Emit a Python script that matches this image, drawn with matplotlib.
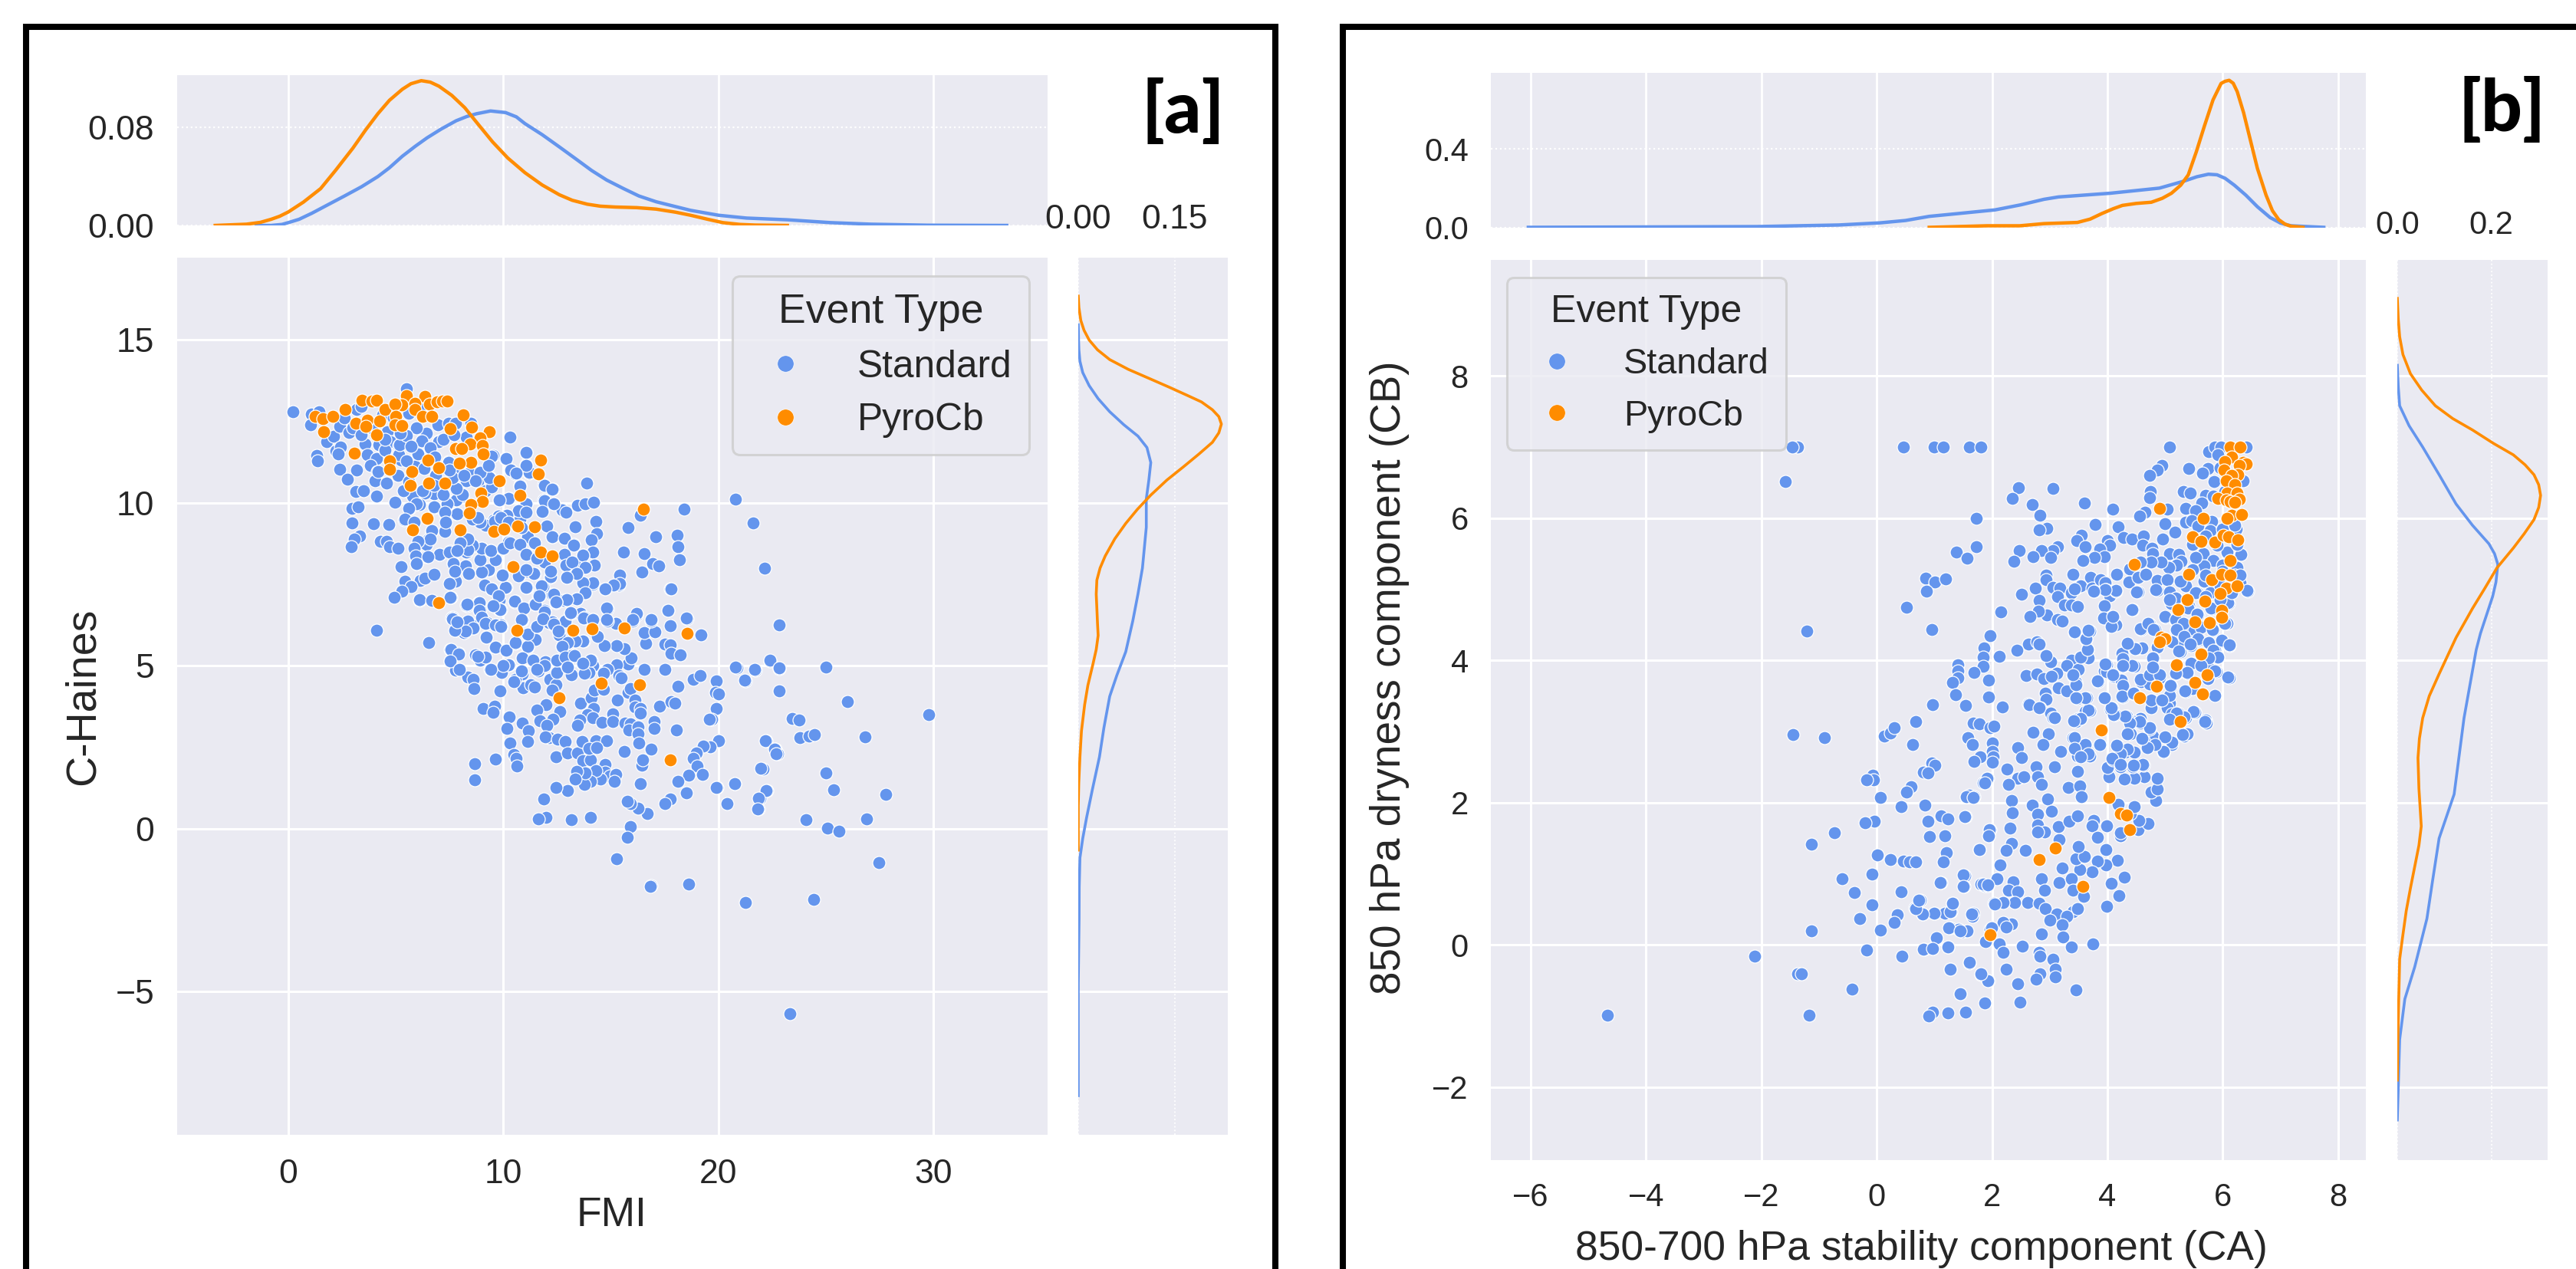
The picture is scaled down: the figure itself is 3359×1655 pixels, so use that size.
import matplotlib
matplotlib.use("Agg")
import matplotlib.pyplot as plt
from matplotlib.lines import Line2D

BLUE = "#6495ED"
ORANGE = "#FF8C00"
BG = "#EAEAF2"

# ---------- panel a: FMI vs C-Haines ----------
a_standard = [
(6.10,7.0),(6.52,5.72),(7.56,7.10),(7.62,6.48),(7.80,6.30),(7.76,6.10),(8.15,6.02),(8.31,6.84),(8.31,6.18),(8.60,6.15),
(8.86,6.94),(8.87,6.70),(8.99,6.49),(9.20,5.88),(9.23,6.33),(9.46,7.35),(9.64,6.26),(9.90,6.20),(9.82,6.73),(9.64,5.57),
(10.12,5.47),(10.12,7.41),(10.54,6.99),(11.07,7.41),(11.64,7.17),(11.48,6.88),(10.86,6.39),(11.52,6.18),(11.11,5.94),(11.49,5.81),
(10.56,5.69),(11.13,5.57),(10.87,5.24),(11.37,5.16),(11.90,5.02),(11.96,5.12),(11.61,4.84),(10.86,4.75),(10.27,5.04),(10.0,5.0),
(9.92,4.79),(9.38,4.88),(7.52,5.49),(7.92,5.38),(7.54,5.15),(7.94,4.90),(7.76,4.86),(8.69,5.34),(8.85,5.26),(8.93,5.17),
(9.17,5.27),(8.36,4.65),(8.61,4.58),(8.63,4.29),(9.85,4.24),(9.05,3.70),(9.58,3.77),(9.52,3.56),(10.26,3.44),(10.15,3.08),
(10.87,3.25),(11.15,3.01),(10.32,2.62),(11.11,2.67),(10.50,2.28),(10.60,2.15),(10.61,1.92),(9.62,2.13),(8.67,2.00),(8.67,1.51),
(10.92,4.33),(11.25,4.41),(11.43,4.35),(10.54,4.58),(10.48,4.51),(12.17,4.59),(12.44,4.41),(12.26,4.25),(12.48,4.80),(11.99,3.81),
(11.56,3.63),(12.62,3.60),(11.70,3.31),(12.30,3.35),(12.02,3.17),(12.14,2.80),(11.96,2.82),(12.52,2.75),(12.86,2.67),(12.45,2.21),
(12.98,2.33),(13.43,2.32),(13.69,2.08),(14.05,2.12),(13.67,2.67),(14.31,2.70),(14.80,2.71),(13.96,2.47),(14.35,2.49),(13.57,3.85),
(14.07,4.02),(14.23,4.25),(14.64,4.27),(14.19,3.70),(13.90,3.49),(14.17,3.41),(13.54,3.34),(13.45,3.17),(14.58,3.26),(15.08,3.53),
(15.08,3.29),(15.30,3.94),(15.80,4.18),(15.89,4.29),(16.13,3.94),(16.13,3.74),(16.37,3.70),(16.37,3.55),(15.65,3.23),(15.92,3.22),
(15.83,3.04),(16.25,3.12),(16.27,2.91),(17.02,3.29),(17.0,3.08),(17.26,3.77),(17.80,3.90),(17.98,3.85),(18.04,3.02),(18.10,4.37),
(18.83,4.58),(19.13,4.71),(19.88,4.53),(19.86,4.19),(20.0,4.14),(19.88,3.69),(19.70,3.35),(19.58,3.37),(20.0,2.70),(19.61,2.51),
(19.29,2.53),(18.96,2.33),(18.81,2.15),(18.99,1.92),(19.26,1.66),(18.63,1.65),(18.13,1.45),(18.50,1.11),(17.76,0.92),(17.52,0.76),
(16.69,0.47),(16.25,0.63),(15.92,0.78),(15.77,0.84),(16.35,1.37),(16.43,1.94),(16.49,2.10),(16.85,2.43),(16.31,2.63),(15.63,2.37),
(14.73,1.98),(14.73,1.74),(14.94,1.62),(15.24,1.66),(15.15,1.45),(14.5,1.52),(14.29,1.78),(14.05,1.45),(13.77,1.35),(13.81,1.70),
(13.42,1.76),(13.33,1.52),(12.98,1.17),(12.44,1.27),(11.86,0.92),(11.99,0.35),(11.64,0.29),(13.17,0.27),(14.04,0.34),(15.92,0.07),
(15.77,-0.26),(15.26,-0.93),(16.87,-1.75),(18.63,-1.71),(20.87,4.94),(21.70,4.87),(22.40,5.14),(22.82,4.92),(21.25,4.54),(22.82,4.22),
(22.20,2.70),(22.64,2.45),(22.74,2.29),(22.06,1.84),(22.26,1.18),(21.93,0.93),(21.85,0.60),(20.76,1.39),(19.93,1.26),(20.38,0.76),
(16.55,4.90),(17.52,4.90),(15.81,5.05),(15.93,5.24),(15.26,5.04),(14.82,4.88),(15.36,4.71),(15.48,4.63),(15.60,5.53),(15.26,5.63),
(14.68,5.63),(14.37,5.90),(13.73,5.75),(13.33,5.76),(13.04,5.71),(12.74,5.59),(12.92,5.24),(13.15,5.31),(12.62,5.20),(12.98,4.96),
(13.15,4.73),(13.65,5.08),(14.07,5.16),(14.17,5.0),(13.96,4.79),(13.75,4.76),(14.64,4.76),(16.61,5.68),(17.5,5.67),(17.77,5.65),
(17.8,5.39),(18.21,5.33),(16.55,6.02),(17.05,6.04),(17.77,6.22),(17.64,6.69),(18.54,6.44),(19.17,5.94),(17.77,7.35),(16.88,6.37),
(16.19,6.57),(16.01,6.37),(15.24,6.30),(14.82,6.37),(14.82,6.75),(13.12,6.61),(13.75,6.47),(14.17,6.41),(13.57,6.61),(12.86,6.37),
(12.32,6.26),(12.14,6.33),(11.85,6.45),(12.6,5.94),(12.46,6.94),(12.8,7.0),(13.39,7.06),(13.79,7.24),(14.74,7.35),(15.38,7.49),
(14.17,7.51),(12.26,7.2),(11.9,6.69),(22.83,6.26),
(0.22,12.79),(1.08,12.73),(1.44,12.81),(1.04,12.39),(1.77,11.88),(2.09,12.05),(2.39,12.36),(2.81,12.16),(3.16,12.88),(3.4,12.96),
(1.32,11.45),(1.37,11.3),(2.2,11.59),(2.44,11.71),(2.33,11.5),(2.39,11.04),(3.19,11.02),(2.74,10.73),(3.57,11.8),(3.68,11.49),
(4.19,11.79),(4.48,11.61),(4.11,11.36),(3.8,11.16),(4.15,10.96),(4.04,10.69),(4.55,10.6),(3.13,10.35),(3.51,10.38),(4.11,10.2),
(4.96,10.01),(2.97,9.83),(3.25,9.89),(2.97,9.38),(3.96,9.36),(4.67,9.33),(3.32,8.99),(3.08,8.9),(2.92,8.65),(4.27,8.81),
(4.56,8.81),(4.72,8.65),(5.1,8.61),(5.87,8.63),(5.92,8.38),(5.95,8.14),(6.43,8.34),(7.03,8.43),(7.54,8.51),(7.67,8.16),
(8.23,8.06),(5.23,8.04),(5.42,7.59),(6.14,7.62),(6.35,7.69),(6.78,7.81),(5.71,7.44),(5.28,7.3),(4.91,7.11),(6.08,7.02),
(6.67,7.01),(7.54,7.1),(7.78,7.59),(7.5,7.52),(8.29,6.87),(8.85,6.93),(7.61,6.46),(4.11,6.1),(5.5,13.5),(4.59,12.18),
(4.75,11.87),(5.12,11.77),(5.12,11.47),(5.47,12.06),(6.0,11.54),(6.24,11.93),(6.99,11.9),(6.95,12.41),(6.43,12.14),(7.46,12.45),
(7.78,12.45),(5.95,12.3),(5.23,11.32),(5.87,11.12),(6.83,10.85),(7.62,10.85),(7.46,11.28),(8.9,10.96),(8.26,12.02),(8.5,12.45),
(10.1,11.36),(10.33,11.02),(11.18,10.92),(11.07,11.54),(11.07,11.18),(9.51,11.46),(10.57,10.89),(13.86,10.61),(11.88,10.56),(12.3,10.42),
(10.77,10.53),(9.38,10.77),(8.42,10.92),(7.78,10.92),(8.26,10.69),(8.82,10.65),(7.19,10.26),(6.78,10.27),(6.35,10.3),(5.79,10.22),
(5.36,10.38),(7.78,10.09),(8.1,10.22),(9.79,10.09),(10.26,10.14),(11.05,9.98),(11.88,10.09),(12.33,9.98),(12.73,9.79),(12.89,9.71),
(13.44,9.92),(13.81,9.97),(14.19,10.01),(16.35,9.62),(18.39,9.8),(20.8,10.12),(21.61,9.38),(15.81,9.24),(14.29,9.44),(13.32,9.26),
(14.32,9.06),(14.07,8.86),(13.25,8.73),(12.84,8.91),(12.28,8.97),(11.82,9.73),(12.01,9.3),(17.07,8.95),(18.07,9.02),(18.12,8.65),
(18.2,8.26),(15.57,8.49),(16.56,8.45),(16.92,8.14),(17.21,8.06),(16.44,7.87),(14.16,8.49),(13.68,8.4),(12.85,8.38),(14.21,8.09),
(13.8,8.01),(12.92,8.1),(13.29,8.14),(13.41,7.83),(12.95,7.71),(12.17,7.71),(15.41,7.79),(15.39,7.52),(15.12,7.48),(14.74,7.36),
(14.16,7.54),(13.68,7.54),(13.8,7.24),(17.78,7.35),(13.41,7.05),(12.95,7.02),(12.46,6.95),(11.85,7.44),(11.66,7.16),(12.33,7.2),
(11.1,7.41),(10.1,7.4),(9.46,7.36),(9.14,7.48),(9.3,7.93),(9.94,7.79),(10.73,7.79),(11.1,7.91),(11.45,7.83),(11.1,8.42),
(8.98,8.61),(8.58,8.67),(8.29,8.5),(9.41,8.53),(10.25,8.79),(11.13,8.95),(10.77,9.51),(10.18,9.63),(9.54,9.47),(8.82,9.51),
(9.19,9.32),(7.81,9.66),(6.78,9.85),(7.27,9.71),(7.27,9.12),(6.67,9.16),(5.39,9.47),(5.63,9.83),(6.11,9.95),(6.51,8.89),
(8.34,8.89),(9.79,7.0),(10.53,6.97),(11.45,6.89),(9.86,6.73),(8.9,6.73),(10.89,6.42),(9.86,6.26),(8.58,6.22),(12.25,6.34),
(13.13,6.61),(13.75,6.5),(14.8,6.77),(14.8,6.42),(16.2,6.61),(16,6.42),(16.87,6.42),(17.64,6.69),(18.52,6.46),(22.14,7.99),
(25.0,4.96),(22.4,5.16),(22.82,4.93),(21.68,4.89),(21.2,4.56),(20.8,4.96),(26,3.91),(29.77,3.5),(23.44,3.38),(23.74,3.34),
(23.78,2.8),(24.2,2.84),(24.47,2.88),(26.83,2.82),(22.18,2.7),(22.6,2.45),(22.67,2.3),(21.98,1.86),(25.0,1.7),(22.21,1.18),
(21.87,0.93),(21.83,0.61),(25.34,1.2),(27.79,1.06),(24.08,0.27),(25.08,0.02),(25.61,-0.07),(26.87,0.31),(27.44,-1.04),(21.26,-2.27),
(24.43,-2.17),(23.32,-5.69),(16.83,-1.78),(20.76,1.38),(19.89,1.27)]

a_standard_dense = [
(10.3,12.01),(11.07,11.54),(10.12,11.36),(9.46,11.44),(10.35,11.02),(11.19,10.94),(11.07,11.16),(10.59,10.91),(11.9,10.55),(12.28,10.42),
(10.77,10.52),(10.24,10.14),(9.82,10.08),(11.9,10.06),(12.32,9.97),(11.07,9.98),(10.71,9.75),(11.07,9.71),(11.82,9.73),(10.18,9.63),
(9.78,9.59),(12.02,9.29),(11.13,8.96),(11.45,8.77),(12.26,8.96),(12.85,8.91),(13.27,8.71),(12.85,8.42),(13.68,8.4),(11.9,8.18),
(12.89,8.1),(13.21,8.18),(13.8,8.01),(13.39,7.83),(12.93,7.71),(12.2,7.73),(12.2,7.91),(11.07,7.41),(11.78,7.46),(10.71,7.77),
(11.42,7.83),(11.07,7.95),(9.94,7.79),(9.29,7.95),(8.99,7.87),(8.93,8.26),(8.99,8.61),(8.57,8.71),(8.33,8.57),(8.22,8.06),
(8.39,7.83),(9.64,8.26),(9.4,8.53),(10.0,8.61),(10.3,8.77),(10.77,8.73),(11.07,8.42),(11.54,8.3),(10.83,9.24),(9.17,9.32),
(8.93,9.4),(9.58,9.44),(9.88,9.55),(10.24,9.4),(7.8,10.1),(7.38,9.98),(7.84,9.67),(7.21,10.26),(6.79,9.87),(7.27,9.71),
(7.32,9.4),(6.67,9.16),(6.43,8.73),(6.61,8.89),(7.03,8.42),(7.5,8.49),(7.68,8.14),(7.74,7.91),(8.33,8.89),(7.98,8.77),
(7.86,8.53),(8.57,9.5),(8.81,9.55),(9.17,10.38),(9.46,10.49),(9.34,10.77),(8.93,10.93),(8.69,10.69),(8.1,10.26),(7.8,10.45),
(7.62,10.77),(8.16,10.85),(7.44,11.24),(7.5,11.0),(6.79,10.53),(6.25,10.38),(5.96,9.98),(5.6,9.83),(5.42,9.5),(5.84,9.4),
(6.02,8.81),(5.86,8.61),(5.92,8.38),(6.49,8.34),(5.96,8.14),(9.29,11.16),(6.02,11.51),(6.2,11.91),(7.0,11.88),(5.13,11.47),
(5.16,11.79),(4.51,11.62),(5.48,12.06),(4.18,10.96),(9.46,7.36),(9.76,7.16),(10.53,6.99),(10.95,6.77),(11.48,6.89),(11.66,7.16),
(12.43,6.96),(11.9,6.65),(9.84,6.73),(9.52,6.85),(8.87,6.93),(8.87,6.69),(8.99,6.49),(8.31,6.89),(8.33,6.38),(8.6,6.16),
(8.22,6.06),(7.74,6.1),(7.62,6.45),(7.86,6.34),(9.17,6.3),(9.19,5.87),(9.64,6.26),(9.88,6.2),(9.64,5.57),(10.12,5.47),
(10.56,5.71),(11.13,5.59),(11.13,5.98),(10.83,6.42),(11.54,6.2),(11.84,6.45),(12.32,6.28),(12.55,6.06),(13.12,6.63),(13.74,6.47),
(14.16,6.42),(13.71,5.75),(13.33,5.75),(12.97,5.71),(12.73,5.59),(10.89,5.24),(11.36,5.16),(11.9,5.0),(12.49,5.16),(12.87,5.26),
(13.3,5.32),(14.04,5.16),(13.68,5.08),(12.97,4.96),(10.24,5.04),(10.83,4.85),(10,5),(9.4,4.89),(8.81,5.28),(7.56,5.51),
(7.92,5.37),(7.53,5.15),(7.94,4.9),(11.54,4.89),(2.6,12.6),(3.0,12.3),(3.4,12.1),(3.9,12.3),(4.4,12.7),(5.0,12.9),
(5.6,12.75),(6.1,12.9),(5.2,12.15),(4.9,12.6),(4.5,11.95),(5.7,11.75),(6.6,11.7),(7.2,11.95),(7.7,12.1),(6.8,11.4),
(6.3,11.05),(5.5,11.3),(5.1,10.85),(5.6,10.65)]

a_pyrocb = [
(7.0,6.94),(10.61,6.1),(13.23,6.08),(14.11,6.14),(15.6,6.17),(18.55,6.0),(14.56,4.47),(16.33,4.41),(12.57,4.01),(17.77,2.11),
(1.26,12.66),(1.59,12.59),(2.07,12.66),(2.65,12.86),(1.63,12.19),(3.43,13.15),(3.88,13.13),(4.11,13.16),(3.13,12.44),(3.68,12.55),
(3.6,12.35),(4.23,12.51),(4.48,12.87),(4.11,12.09),(3.08,11.53),(5.5,13.3),(6.35,13.28),(5.28,13.02),(4.94,13.04),(5.87,13.06),
(5.87,12.88),(6.55,13.03),(6.92,13.1),(7.18,13.12),(7.38,13.13),(4.99,12.65),(6.24,12.65),(6.67,12.65),(4.96,12.39),(5.26,12.37),
(8.13,12.7),(7.51,12.27),(8.52,12.33),(9.35,12.19),(8.93,12.0),(8.45,11.82),(9.03,11.77),(9.06,11.51),(7.78,11.67),(8.05,11.67),
(8.47,11.24),(7.96,11.21),(11.74,11.31),(11.61,10.89),(4.69,11.29),(4.7,11.04),(6.48,11.31),(6.99,11.07),(5.74,10.96),(5.66,10.53),
(6.54,10.6),(7.27,10.61),(9.79,10.67),(8.95,10.31),(10.78,10.24),(9.03,10.04),(8.47,9.95),(8.41,9.7),(16.51,9.8),(6.46,9.53),
(5.79,9.18),(7.99,9.18),(9.57,9.12),(10.02,9.2),(10.65,9.28),(11.45,9.26),(11.74,8.48),(12.25,8.38),(10.46,8.04)]

a_top_x_std = [-1.5,-0.8,-.3,0,.5,1.1,1.8,2.6,3.4,4.16,4.7,5.3,5.9,6.45,7.1,7.8,8.3,8.74,9.4,10.1,10.6,11,11.8,12.6,13.4,14.1,14.8,15.6,16.3,17.1,18.7,20,21.3,23.2,25.2,27.1,29.7,33.4]
a_top_y_std = [0,0,.0008,.0023,.005,.01,.0165,.0239,.0315,.0398,.047,.0564,.0645,.0714,.0785,.0853,.0888,.091,.0933,.092,.0885,.083,.074,.064,.0538,.0448,.037,.0299,.024,.0193,.0123,.0083,.006,.0046,.0023,.001,.0002,0]
a_top_x_pyro = [-3.4,-1.95,-1.3,-.8,-.4,0,.7,1.5,2.2,3,3.6,4.16,4.7,5.3,5.7,6.18,6.6,7,7.6,8.2,8.8,9.5,10.2,11,11.8,12.6,13.2,13.9,14.5,15.2,16.2,17.1,18,18.7,19.5,20.2,21,21.7,23.2]
a_top_y_pyro = [0,.001,.0025,.005,.0075,.011,.019,.03,.045,.063,.078,.091,.102,.111,.1155,.118,.1168,.1135,.106,.096,.083,.068,.055,.043,.033,.025,.0205,.0173,.0157,.015,.0145,.0133,.0108,.0083,.005,.0023,.0008,.0003,0]
a_right_y_std = [15.47,15,14.7,14.35,14,13.6,13.2,12.8,12.4,12.05,11.7,11.24,10.7,10.12,9.25,8,7.2,6.38,5.43,4.7,4.06,3.1,2.2,1.2,.34,-.3,-.9,-1.8,-2.77,-4.76,-8.2]
a_right_x_std = [0,.0005,.001,.0026,.007,.017,.031,.049,.071,.093,.107,.113,.11,.106,.106,.1,.093,.085,.074,.06,.049,.04,.033,.022,.013,.007,.0026,.0015,.0013,0,0]
a_right_y_pyro = [16.35,16,15.6,15.3,15,14.7,14.4,14.1,13.8,13.55,13.3,13.1,12.86,12.65,12.42,12.15,11.86,11.5,11.11,10.7,10.24,9.8,9.37,8.9,8.37,8,7.63,7.2,6.76,6.3,5.93,5.5,5.06,4.4,3.81,3,2.2,1.4,.7,-.66]
a_right_x_pyro = [0,.001,.004,.009,.017,.03,.049,.078,.113,.142,.17,.192,.209,.219,.223,.219,.209,.188,.164,.138,.113,.092,.074,.057,.042,.034,.029,.028,.029,.03,.031,.028,.023,.015,.01,.005,.0026,.0008,0,0]

# ---------- panel b: CA vs CB ----------
b_standard = [
(0.99,7.0),(1.15,7.0),(1.6,7.0),(1.81,7.0),(5.08,7.0),(5.75,6.94),(5.86,7.0),(5.97,7.0),(6.41,7.0),(5.92,6.89),
(4.95,6.74),(4.86,6.68),(4.73,6.6),(5.41,6.7),(5.74,6.7),(5.65,6.63),(5.85,6.51),(5.95,6.71),(2.46,6.43),(3.05,6.42),
(2.35,6.28),(2.7,6.19),(3.6,6.21),(4.09,6.13),(4.75,6.37),(4.73,6.29),(5.31,6.37),(5.44,6.35),(5.7,6.32),(5.84,6.31),
(5.63,6.21),(5.03,6.13),(5.35,6.14),(5.53,6.1),(4.65,6.08),(4.56,6.03),(2.83,6.04),(1.72,6.0),(2.95,5.86),(2.81,5.84),
(3.79,5.91),(4.19,5.88),(5.0,5.92),(5.17,5.8),(5.35,5.94),(5.46,5.97),(5.57,5.89),(5.81,5.95),(5.78,5.82),(6.23,5.85),
(5.99,5.85),(3.55,5.76),(3.47,5.69),(3.61,5.6),(4.0,5.68),(4.04,5.62),(3.87,5.57),(3.94,5.46),(3.77,5.45),(3.57,5.41),
(4.28,5.73),(4.43,5.71),(4.62,5.75),(4.61,5.62),(4.96,5.71),(4.77,5.58),(4.79,5.5),(5.08,5.5),(5.24,5.49),(5.28,5.39),
(5.66,5.5),(5.84,5.4),(6.08,5.52),(6.31,5.49),(6.25,5.63),(5.47,5.63),(5.68,5.33),(5.53,5.45),(5.19,5.34),(5.06,5.31),
(4.93,5.38),(4.76,5.38),(4.57,5.38),(4.38,5.29),(3.13,5.6),(3.05,5.55),(2.86,5.55),(3.01,5.45),(2.71,5.46),(2.47,5.54),
(2.38,5.39),(1.73,5.6),(1.38,5.52),(1.56,5.44),(0.85,5.16),(1.01,5.1),(1.2,5.15),(0.86,4.97),(3.4,5.21),(3.71,5.17),
(4.16,5.21),(2.93,5.2),(2.94,5.13),(2.75,5.02),(3.06,5.03),(3.17,5.02),(2.51,4.93),(2.81,4.84),(3.45,5.02),(3.53,5.05),
(3.37,4.95),(3.14,4.9),(3.26,4.78),(3.37,4.78),(3.48,4.76),(3.74,5.02),(3.78,4.97),(3.88,5.13),(3.96,5.09),(3.97,4.99),
(4.04,4.91),(4.15,4.97),(4.37,5.1),(4.53,5.17),(4.66,5.21),(4.53,4.96),(4.86,4.98),(4.87,5.12),(5.04,5.13),(5.35,5.05),
(5.26,5.11),(5.48,5.27),(5.08,4.96),(5.2,4.88),(5.56,4.95),(5.79,4.96),(5.68,5.11),(5.99,5.34),(6.25,5.31),(6.43,4.97),
(6.3,5.09),(6.1,4.8),(5.81,4.73),(5.1,4.8),(5.01,4.61),(5.17,4.58),(5.33,4.51),(5.41,4.77),(5.57,4.64),(5.64,4.48),
(5.84,4.42),(6.08,4.52),(5.2,4.41),(5.41,4.41),(5.5,4.44),(5.59,4.29),(6.0,4.27),(6.12,4.21),(5.86,4.14),(5.92,4.05),
(5.45,4.21),(5.24,4.24),(5.11,4.26),(4.86,4.19),(4.8,4.04),(5.26,4.12),(5.47,3.96),(5.76,3.9),(5.89,3.84),(6.12,3.76),
(5.38,3.82),(5.19,3.82),(5.35,3.56),(5.48,3.6),(5.86,3.51),(5.1,3.64),(4.9,3.76),(4.74,3.79),(4.79,3.9),(4.46,3.92),
(4.27,4.09),(4.27,3.99),(4.27,3.92),(4.35,4.23),(4.51,4.17),(4.6,4.18),(4.59,4.44),(4.73,4.51),(4.82,4.43),(4.44,4.71),
(3.94,4.77),(3.93,4.6),(4.11,4.6),(4.11,4.51),(4.15,4.5),(4.06,4.48),(3.69,4.41),(3.43,4.39),(3.63,4.29),(3.66,4.15),
(3.53,4.05),(3.67,4.04),(3.37,4.0),(3.29,3.93),(3.49,3.87),(3.4,3.79),(3.46,3.69),(3.12,3.82),(3.02,3.98),(2.93,4.07),
(2.63,4.23),(2.78,4.26),(2.82,4.23),(2.43,4.14),(2.12,4.06),(1.96,4.35),(1.86,4.18),(1.85,4.05),(1.85,3.92),(1.41,3.94),
(1.41,3.85),(1.41,3.76),(1.31,3.69),(1.68,3.83),(1.94,3.72),(1.37,3.52),(1.94,3.49),(0.97,3.38),(1.54,3.37),(2.18,3.35),
(2.15,4.68),(0.95,4.43),(2.95,4.64),(2.8,4.69),(2.65,4.62),(3.13,4.57),(3.21,4.55),(2.59,3.79),(2.77,3.81),(2.9,3.74),
(3.03,3.78),(3.15,3.62),(3.29,3.57),(2.92,3.54),(2.93,3.45),(2.63,3.39),(2.83,3.34),(3.48,3.46),(3.64,3.47),(3.01,3.26),
(3.06,3.2),(3.54,3.18),(3.69,3.29),(3.95,3.47),(4.08,3.33),(4.13,3.24),(3.84,3.7),(3.98,3.94),(3.95,3.85),(4.11,3.78),
(4.24,3.72),(4.28,3.63),(4.26,3.49),(4.46,3.53),(4.59,3.7),(4.73,3.67),(4.77,3.44),(4.76,3.33),(4.95,3.44),(5.08,3.4),
(5.04,3.33),(5.22,3.26),(5.35,3.2),(5.51,3.27),(4.57,3.18),(4.33,3.22),(5.7,3.16),(6.03,6.38),(6.35,6.53),(6.2,5.9),
(-1.45,2.96),(-0.91,2.92),(0.13,2.94),(0.24,2.98),(0.3,3.06),(0.68,3.14),(0.62,2.82),(1.67,3.12),(1.78,3.11),(1.96,3.06),
(2.03,3.08),(1.58,2.92),(1.66,2.82),(1.79,2.64),(1.69,2.58),(2.0,2.84),(2,2.72),(2.02,2.65),(2,2.57),(0.96,2.56),
(1.01,2.53),(0.81,2.43),(0.89,2.42),(-0.07,2.39),(-0.05,2.32),(-0.17,2.32),(0.07,2.07),(0.59,2.22),(0.52,2.15),(0.42,1.95),
(0.83,1.97),(1.92,2.34),(1.84,2.28),(1.55,2.08),(1.6,2.11),(1.69,2.08),(1.54,1.8),(1.11,1.81),(1.24,1.77),(0.89,1.74),
(-0.04,1.74),(-0.2,1.72),(-0.74,1.58),(-1.13,1.42),(0.91,1.52),(1.18,1.54),(1.96,1.62),(1.94,1.53),(1.78,1.34),(1.21,1.3),
(1.16,1.17),(0.01,1.27),(0.24,1.2),(0.46,1.18),(0.57,1.17),(0.68,1.17),(-0.08,1.0),(-0.6,0.93),(-0.39,0.74),(0.42,0.75),
(-0.08,0.56),(-0.3,0.37),(0.36,0.42),(0.3,0.32),(0.75,0.63),(0.66,0.52),(0.8,0.44),(1.0,0.45),(1.18,0.45),(1.29,0.47),
(1.32,0.59),(1.11,0.88),(1.52,0.98),(1.51,0.82),(1.8,0.86),(1.87,0.83),(1.92,0.83),(2.03,0.59),(1.67,0.45),(1.66,0.4),
(0.07,0.21),(-1.13,0.2),(1.27,0.24),(1.42,0.22),(1.48,0.19),(1.56,0.2),(1.97,0.22),(1.88,0.05),(1.04,0.09),(1.23,-0.03),
(0.97,-0.05),(0.82,-0.06),(-0.18,-0.07),(-2.12,-0.16),(0.43,-0.16),(1.61,-0.25),(1.27,-0.34),(1.81,-0.42),(1.94,-0.5),(-1.37,-0.4),
(-1.31,-0.41),(-0.43,-0.62),(1.45,-0.68),
(4.2,0.69),(3.99,0.54),(4.29,0.95),(4.06,0.87),(4.17,1.19),(3.97,1.13),(3.97,1.34),(3.82,1.18),(3.73,1.03),(3.52,1.06),
(3.21,1.08),(3.45,1.21),(3.6,1.24),(3.49,1.38),(3.16,1.48),(3.15,1.66),(3.33,1.74),(3.48,1.81),(3.76,1.75),(3.99,1.67),
(3.73,1.68),(3.82,1.51),(4.22,1.53),(4.22,1.58),(4.53,1.62),(4.7,1.71),(4.54,1.75),(4.4,1.85),(4.47,1.95),(4.19,1.98),
(4.84,2.03),(4.76,2.15),(4.86,2.19),(4.87,2.34),(4.64,2.36),(4.47,2.34),(4.62,2.53),(4.29,2.33),(4.23,2.5),(4.44,2.51),
(4.02,2.36),(4.0,2.49),(4.09,2.6),(4.3,2.71),(4.19,2.8),(4.69,2.8),(4.97,2.71),(5.11,2.82),(4.79,2.94),(4.62,2.88),
(5,2.93),(5.33,2.94),(5.71,3.12),(5.51,3.27),(4.47,3.14),(4.4,2.97),(4.05,3.31),(3.69,2.66),(3.62,2.82),(3.48,2.66),
(3.4,2.91),(2.98,2.97),(2.71,2.99),(2.88,2.82),(3.19,2.72),(2.45,2.77),(2.51,2.63),(2.26,2.47),(2.76,2.5),(3.08,2.51),
(3.48,2.44),(2.45,2.34),(2.29,2.26),(2.79,2.36),(2.55,2.37),(2.86,2.26),(3.32,2.21),(3.52,2.24),(3.55,2.09),(2.96,2.05),
(2.69,1.97),(2.34,2.03),(3.03,1.88),(2.79,1.84),(2.35,1.86),(2.79,1.69),(2.91,1.59),(2.79,1.59),(2.31,1.64),(1.95,1.62),
(1.94,1.53),(1.91,2.34),(1.87,2.28),(1.55,2.08),(1.67,2.07),(1.52,1.8),(2.34,1.43),(2.24,1.33),(2.58,1.33),(1.78,1.34),
(2.14,1.13),(1.5,0.99),(2.09,0.93),(1.84,0.86),(1.92,0.84),(1.1,0.88),(1.5,0.82),(2.36,0.89),(2.28,0.77),(2.45,0.75),
(2.85,0.93),(2.91,0.77),(3.16,0.88),(3.38,0.93),(3.4,0.77),(3.59,0.68),(2.62,0.6),(2.81,0.59),(2.39,0.6),(2.19,0.6),
(2.05,0.58),(2.92,0.51),(3.12,0.44),(3.4,0.47),(3.48,0.51),(3.29,0.4),(3.0,0.35),(3.21,0.29),(2.34,0.3),(2.19,0.32),
(2.24,0.25),(1.99,0.24),(1.65,0.44),(1.28,0.47),(1.31,0.59),(1.0,0.45),(0.8,0.44),(0.67,0.51),(0.73,0.63),(1.25,0.24),
(1.45,0.2),(2.85,0.16),(3.23,0.11),(3.75,0.02),(3.38,-0.03),(2.52,-0.02),(2.12,0.02),(2.19,-0.1),(2.81,-0.1),(2.83,-0.16),
(3.06,-0.2),(3.09,-0.34),(3.09,-0.45),(2.83,-0.41),(2.76,-0.48),(2.45,-0.55),(2.25,-0.34),(1.92,-0.5),(1.81,-0.41),(1.61,-0.24),
(1.27,-0.34),(1.04,0.1),(1.23,-0.03),(0.81,-0.06),(0.97,-0.05),(3.46,-0.63),(2.48,-0.8),(1.87,-0.81),(1.45,-0.68),(1.54,-0.94),
(1.24,-0.95),(0.97,-0.94),(0.9,-1.0),(-1.17,-0.99),(-4.67,-0.99),(-1.58,6.51),(-1.37,7.0),(-1.47,7.0),(0.46,7.0),(-1.21,4.41),
(0.51,4.75),(3.62,3.28),(3.69,3.29),(3.08,3.19),(3.5,3.18),(3.45,3.14),(4.39,3.14),(4.57,3.12),(4.73,3.03),(5.11,3.25),
(5.26,3.16),(5.36,3.2),(2.64,3.38),(2.82,3.33)]

b_standard_dense = [
(4.51,4.96),(4.42,4.72),(4.84,4.99),(4.14,4.98),(3.96,5.0),(3.76,4.97),(3.43,5.01),(4.09,4.62),(5.18,4.88),(5.07,4.85),
(5.0,4.62),(5.18,4.58),(5.31,4.52),(5.53,4.95),(5.78,4.95),(6.42,4.98),(6.09,4.81),(5.4,4.74),(5.56,4.65),(5.8,4.74),
(5.62,4.47),(5.82,4.43),(6.04,4.52),(5.19,4.43),(5.33,4.34),(5.57,4.3),(5.98,4.28),(6.11,4.22),(5.75,4.25),(5.43,4.23),
(5.24,4.13),(5.84,4.14),(5.91,4.05),(5.75,4.04),(5.45,3.96),(5.62,3.93),(5.38,3.83),(5.18,3.82),(5.86,3.85),(5.74,3.75),
(6.09,3.77),(5.34,3.57),(5.09,3.66),(5.07,3.51),(5.49,3.28),(5.69,3.14),(5.33,3.21),(5.2,3.26),(5.07,3.17),(5.38,2.97),
(5.3,2.96),(5.11,2.85),(4.99,2.93),(4.97,2.72),(4.82,2.82),(4.69,2.78),(4.6,2.9),(4.47,2.71),(4.34,2.75),(4.22,2.69),
(4.16,2.81),(4.08,2.62),(4.61,2.54),(4.45,2.53),(4.22,2.54),(4.73,3.05),(4.56,3.14),(4.38,3.12),(4.34,2.97),(4.31,3.22),
(4.1,3.24),(4.07,3.34),(3.67,3.3),(3.53,3.18),(3.41,3.15),(3.86,2.82),(3.61,2.82),(3.43,2.92),(3.43,2.76),(3.67,2.69),
(3.54,2.65),(3.94,3.48),(3.62,3.48),(3.46,3.47),(3.45,3.66),(3.4,3.8),(3.53,4.05),(3.65,4.15),(3.63,4.3),(3.67,4.42),
(3.43,4.4),(3.82,3.71),(3.99,3.84),(3.96,3.95),(4.09,3.8),(4.27,3.65),(4.25,3.5),(4.45,3.54),(4.57,3.73),(4.73,3.8),
(4.91,3.8),(4.76,3.44),(4.95,3.44),(5.09,3.65),(4.57,4.45),(4.71,4.52),(4.8,4.44),(4.43,3.93),(4.79,4.04),(4.78,3.91),
(4.48,4.17),(4.25,4.1),(4.26,4.02),(4.27,3.93),(4.34,4.24),(5.7,5.75),(5.9,5.62),(6.0,5.25),(5.7,5.2),(5.95,5.05),
(6.2,5.2),(6.15,4.95),(5.95,4.85),(5.7,4.9),(6.3,5.2)]

b_pyrocb = [
(6.13,7.0),(6.3,7.0),(6.15,6.86),(6.03,6.8),(6.35,6.78),(6.41,6.76),(6.28,6.74),(6.02,6.68),(6.26,6.61),(6.15,6.6),
(6.06,6.53),(6.2,6.47),(6.08,6.35),(6.25,6.35),(5.91,6.28),(6.06,6.26),(6.13,6.23),(6.29,6.27),(6.21,6.22),(6.15,6.04),
(6.33,6.05),(6.07,6.0),(4.9,6.14),(5.66,6.0),(5.47,5.74),(5.62,5.67),(5.86,5.66),(6.01,5.76),(6.1,5.74),(6.26,5.7),
(6.13,5.4),(4.46,5.35),(5.41,5.21),(5.81,5.14),(5.98,5.21),(6.13,5.2),(6.06,5.02),(6.24,5.05),(5.95,4.94),(5.38,4.86),
(5.69,4.83),(5.22,4.72),(5.98,4.7),(5.98,4.61),(5.51,4.54),(5.77,4.53),(4.93,4.33),(5.0,4.3),(4.9,4.26),(5.62,4.09),
(5.19,3.94),(5.73,3.8),(5.51,3.69),(4.85,3.64),(5.65,3.53),(4.56,3.47),(5.26,3.14),(1.96,0.14),(4.02,2.07),(4.22,1.85),
(4.33,1.83),(4.39,1.62),(3.89,3.02),(3.1,1.36),(2.81,1.2),(3.58,0.82)]

b_top_x_std = [-6.04,-2.08,-.66,.06,.5,.91,1.4,2.05,2.5,2.9,3.15,3.48,4.05,4.9,5.33,5.55,5.75,5.9,6.04,6.2,6.4,6.6,6.82,7,7.18,7.75]
b_top_y_std = [0,.004,.012,.023,.035,.056,.07,.089,.115,.143,.155,.162,.174,.2,.236,.258,.271,.268,.25,.215,.164,.105,.05,.022,.008,0]
b_top_x_pyro = [.91,1.91,2.48,2.9,3.48,3.7,3.9,4.1,4.26,4.5,4.76,4.95,5.11,5.27,5.4,5.54,5.68,5.83,5.97,6.04,6.11,6.18,6.25,6.36,6.47,6.6,6.75,6.86,6.97,7.08,7.18,7.39]
b_top_y_pyro = [0,.008,.008,.019,.025,.042,.07,.095,.112,.122,.128,.148,.174,.215,.267,.385,.516,.65,.734,.745,.75,.735,.692,.585,.454,.3,.164,.085,.039,.016,.006,0]
b_right_y_std = [8.15,7.85,7.58,7.3,7,6.6,6.2,5.9,5.64,5.5,5.35,5.1,4.9,4.38,4.15,3.19,2.12,1.5,.9,.37,-.31,-.76,-1.33,-2.46]
b_right_x_std = [0,.002,.005,.025,.054,.09,.125,.16,.195,.207,.214,.21,.203,.177,.168,.142,.121,.089,.075,.063,.037,.016,.005,0]
b_right_y_pyro = [9.09,8.8,8.55,8.3,8.03,7.8,7.58,7.4,7.24,7.05,6.89,6.75,6.61,6.47,6.32,6.15,5.98,5.78,5.58,5.3,5,4.73,4.32,3.81,3.5,3.19,2.9,2.63,2.2,1.67,1.4,1.1,.8,.48,.1,-.2,-1.05,-1.9]
b_right_x_pyro = [0,.002,.005,.012,.028,.052,.081,.118,.16,.205,.247,.272,.291,.301,.305,.301,.291,.27,.247,.212,.185,.16,.125,.089,.068,.054,.047,.044,.046,.051,.046,.037,.028,.019,.011,.005,.002,0]

W, H = 3359, 1655
plt.rcParams["font.family"] = ["Liberation Sans", "DejaVu Sans"]
fig = plt.figure(figsize=(W/100, H/100), dpi=100, facecolor="white")


def rect(x0, y0, x1, y1):
    return [x0/W, 1-y1/H, (x1-x0)/W, (y1-y0)/H]


def style(ax):
    ax.set_facecolor(BG)
    for s in ax.spines.values():
        s.set_visible(False)
    ax.tick_params(length=0, colors="#262626")
    ax.set_axisbelow(True)


def frame(x0, x1, y0):
    for xs, ys in (([x0, x0], [y0-4, H+10]), ([x1, x1], [y0-4, H+10]), ([x0-4, x1+4], [y0, y0])):
        fig.add_artist(Line2D([v/W for v in xs], [1-v/H for v in ys], color="black", lw=5.8,
                              solid_capstyle="butt"))


def panel(main_r, top_r, right_r, xlim, ylim, toplim, rightlim, xticks, yticks, topticks, rightticks,
          topfmt, std, pyro, top_std, top_pyro, right_std, right_pyro, fs_tick, pads, legend_kw):
    ax = fig.add_axes(rect(*main_r))
    axt = fig.add_axes(rect(*top_r))
    axr = fig.add_axes(rect(*right_r))
    for a in (ax, axt, axr):
        style(a)

    ax.set_xlim(xlim); ax.set_ylim(ylim)
    ax.set_xticks(xticks); ax.set_yticks(yticks)
    ax.grid(True, color="white", lw=2.2)
    ax.tick_params(axis="x", labelsize=fs_tick, pad=pads[0])
    ax.tick_params(axis="y", labelsize=fs_tick, pad=pads[1])
    ax.scatter([p[0] for p in std], [p[1] for p in std], s=150, c=BLUE, edgecolors="white", linewidths=0.9, zorder=3)
    ax.scatter([p[0] for p in pyro], [p[1] for p in pyro], s=150, c=ORANGE, edgecolors="white", linewidths=0.9, zorder=4)

    axt.set_xlim(xlim); axt.set_ylim(toplim)
    axt.set_xticks(xticks); axt.set_yticks(topticks)
    axt.set_yticklabels([topfmt % t for t in topticks])
    axt.tick_params(axis="x", labelbottom=False)
    axt.tick_params(axis="y", labelsize=fs_tick, pad=pads[1])
    axt.grid(True, axis="x", color="white", lw=2.0)
    axt.grid(True, axis="y", color="white", lw=1.6, ls=":")
    axt.plot(*top_std, color=BLUE, lw=3.2, zorder=3, solid_joinstyle="round")
    axt.plot(*top_pyro, color=ORANGE, lw=3.2, zorder=4, solid_joinstyle="round")

    axr.set_ylim(ylim); axr.set_xlim(rightlim)
    axr.set_yticks(yticks); axr.set_xticks(rightticks)
    axr.set_xticklabels([topfmt % t for t in rightticks])
    axr.tick_params(axis="y", labelleft=False)
    axr.tick_params(axis="x", labelbottom=False, labeltop=True, labelsize=fs_tick, pad=pads[2])
    axr.grid(True, axis="y", color="white", lw=2.2)
    axr.grid(True, axis="x", color="white", lw=1.3, ls=":")
    axr.plot(*right_std, color=BLUE, lw=2.6, zorder=3, solid_joinstyle="round")
    axr.plot(*right_pyro, color=ORANGE, lw=2.6, zorder=4, solid_joinstyle="round")

    handles = [Line2D([], [], ls="", marker="o", ms=15.5, mfc=c, mec="white", mew=0.5) for c in (BLUE, ORANGE)]
    leg = ax.legend(handles, ["Standard", "PyroCb"], title="Event Type", loc="upper left",
                    bbox_to_anchor=legend_kw["anchor"], bbox_transform=fig.transFigure, borderaxespad=0,
                    fontsize=legend_kw["fs"], title_fontsize=legend_kw["tfs"], borderpad=legend_kw["pad"],
                    handlelength=legend_kw["hl"], handletextpad=legend_kw["htp"], labelspacing=legend_kw["ls"],
                    fancybox=True, framealpha=0.8, facecolor=BG, edgecolor="#CCCCCC", labelcolor="#262626")
    leg.get_title().set_color("#262626")
    leg.get_frame().set_linewidth(2.2)
    leg.set_zorder(5)
    return ax


frame(34, 1663, 35)
frame(1751, 3375, 35)

panel((231, 336, 1366, 1480), (231, 98, 1366, 294), (1406, 336, 1601, 1480),
      (-5.17, 35.3), (-9.4, 17.53), (0, 0.1225), (0, 0.233),
      [0, 10, 20, 30], [-5, 0, 5, 10, 15], [0, 0.08], [0, 0.15], "%.2f",
      a_standard + a_standard_dense, a_pyrocb,
      (a_top_x_std, a_top_y_std), (a_top_x_pyro, a_top_y_pyro),
      (a_right_x_std, a_right_y_std), (a_right_x_pyro, a_right_y_pyro),
      32, (22, 21.6, 21),
      dict(anchor=(955/W, 1-360/H), fs=35.7, tfs=38.6, pad=0.45, hl=1.9, htp=0.93, ls=0.47))

panel((1944, 339, 3085, 1512.6), (1944, 95, 3085, 296.5), (3126, 339, 3322, 1512.6),
      (-6.69, 8.48), (-3.02, 9.63), (0, 0.788), (0, 0.32),
      [-6, -4, -2, 0, 2, 4, 6, 8], [-2, 0, 2, 4, 6, 8], [0, 0.4], [0, 0.2], "%.1f",
      b_standard + b_standard_dense, b_pyrocb,
      (b_top_x_std, b_top_y_std), (b_top_x_pyro, b_top_y_pyro),
      (b_right_x_std, b_right_y_std), (b_right_x_pyro, b_right_y_pyro),
      30, (21, 21, 18),
      dict(anchor=(1965/W, 1-362/H), fs=33.7, tfs=36, pad=0.47, hl=1.84, htp=0.94, ls=0.5))

fig.text(798/W, 1-1585/H, "FMI", fontsize=38.5, color="#262626", ha="center", va="center")
fig.text(109/W, 1-908/H, "C-Haines", fontsize=40, color="#262626", ha="center", va="center", rotation=90)
fig.text(2505/W, 1-1629/H, "850-700 hPa stability component (CA)", fontsize=38.4, color="#262626", ha="center", va="center")
fig.text(1812/W, 1-884/H, "850 hPa dryness component (CB)", fontsize=39.5, color="#262626", ha="center", va="center", rotation=90)

for s, xc, yc in (("[a]", 1543, 146), ("[b]", 3262, 143)):
    fig.text(xc/W, 1-yc/H, s, fontsize=68, fontweight="black", family="Lato", color="black", ha="center", va="center")

fig.savefig("out.png", dpi=100)
